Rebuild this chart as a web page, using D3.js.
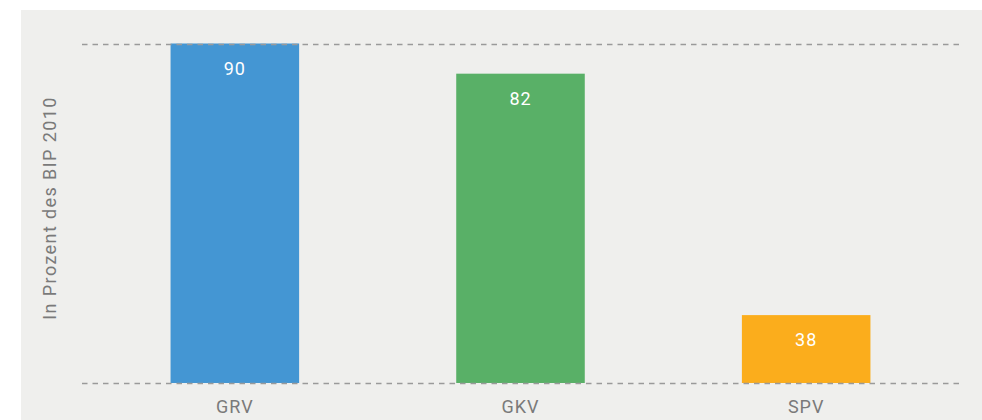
<!DOCTYPE html>
<html><head><meta charset="utf-8">
<script src="https://cdn.jsdelivr.net/npm/d3@7"></script>
<style>html,body{margin:0;padding:0;background:#fff;}svg{display:block;}</style>
</head><body>
<svg id="chart" width="982" height="420"></svg>
<script>
const categories = ["GRV", "GKV", "SPV"];
const barValues = [90, 82, 18];          // bar heights as drawn
const valueLabels = ["90", "82", "38"];  // labels printed on the bars
const colors = ["#4496d3", "#59b067", "#fbad1c"];
const gridValues = [0, 90];
const yTitle = "In Prozent des BIP 2010";

const svg = d3.select("#chart");
const W = 982, H = 420;
const font = "Roboto, 'Noto Sans', sans-serif";

svg.append("rect").attr("x", 21).attr("y", 10).attr("width", W - 21).attr("height", H - 10).attr("fill", "#efefed");

const x = d3.scaleBand().domain(categories).range([82, 959]).paddingInner(0.55).paddingOuter(0.31);
const y = d3.scaleLinear().domain([0, 90]).range([383, 43.5]);

const data = categories.map((c, i) => ({c, v: barValues[i], l: valueLabels[i], col: colors[i]}));

svg.selectAll(".bar").data(data).enter().append("rect")
  .attr("x", d => x(d.c)).attr("width", x.bandwidth())
  .attr("y", d => y(d.v)).attr("height", d => y(0) - y(d.v))
  .attr("fill", d => d.col);

svg.selectAll(".grid").data(gridValues).enter().append("line")
  .attr("x1", 82).attr("x2", 959)
  .attr("y1", d => Math.round(y(d)) + 0.5).attr("y2", d => Math.round(y(d)) + 0.5)
  .attr("stroke", "#9a9a9a").attr("stroke-width", 1.5).attr("stroke-dasharray", "5.5,5");

svg.selectAll(".vl").data(data).enter().append("text")
  .attr("x", d => x(d.c) + x.bandwidth() / 2).attr("y", d => y(d.v) + 31)
  .attr("text-anchor", "middle").attr("fill", "#fff")
  .style("font-family", font).style("font-size", "18px").style("letter-spacing", "1px")
  .text(d => d.l);

svg.selectAll(".cl").data(data).enter().append("text")
  .attr("x", d => x(d.c) + x.bandwidth() / 2).attr("y", 413)
  .attr("text-anchor", "middle").attr("fill", "#7a7a7a")
  .style("font-family", font).style("font-size", "18px").style("letter-spacing", "1px")
  .text(d => d.c);

svg.append("text")
  .attr("transform", "translate(56,208) rotate(-90)")
  .attr("text-anchor", "middle").attr("fill", "#7a7a7a")
  .style("font-family", font).style("font-size", "18px").style("letter-spacing", "1.4px")
  .text(yTitle);
</script>
</body></html>
